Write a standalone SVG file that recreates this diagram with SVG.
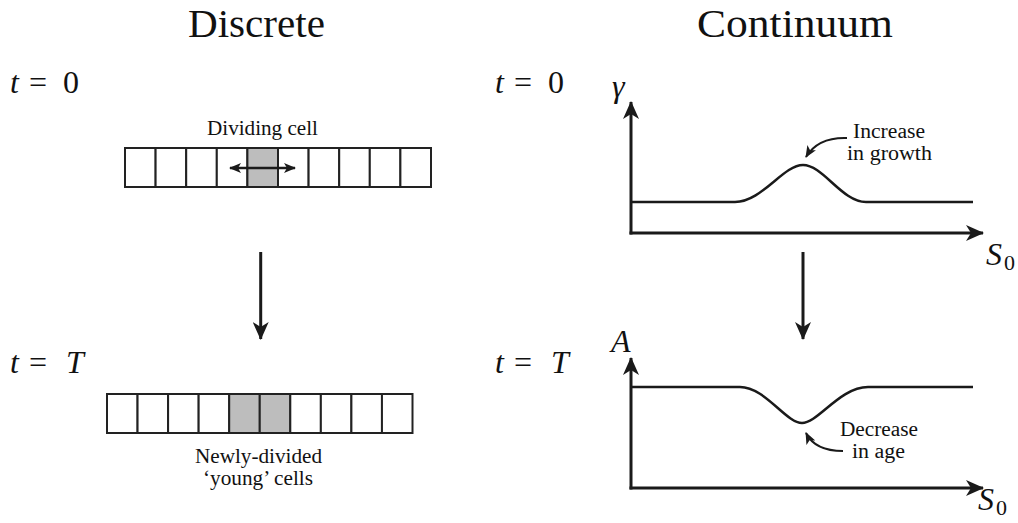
<svg xmlns="http://www.w3.org/2000/svg" width="1018" height="523" viewBox="0 0 1018 523">
<style>
text{fill:#111}
.title{font-size:39px}
.math{font-size:32px}
.it{font-style:italic}
.lbl{font-size:20px}
.cell{fill:#fff;stroke:#222;stroke-width:2}
.grey{fill:#bdbdbd}
.ax{fill:none;stroke:#1a1a1a;stroke-width:3}
.crv{fill:none;stroke:#1a1a1a;stroke-width:2.5}
.thin{fill:none;stroke:#1a1a1a;stroke-width:2}
</style>
<defs>
<marker id="big" viewBox="0 0 18 16" refX="17" refY="8" markerWidth="18" markerHeight="16" markerUnits="userSpaceOnUse" orient="auto">
<path d="M0,0 L18,8 L0,16 L5,8 Z" fill="#1a1a1a"/>
</marker>
<marker id="small" viewBox="0 0 12 10" refX="11" refY="5" markerWidth="12" markerHeight="10" markerUnits="userSpaceOnUse" orient="auto-start-reverse">
<path d="M0,0 L12,5 L0,10 L3,5 Z" fill="#1a1a1a"/>
</marker>
</defs>
<g font-family="Liberation Serif, Times New Roman, DejaVu Serif, serif">
<g id="titles">
<text class="title" x="188" y="37" textLength="137" lengthAdjust="spacingAndGlyphs">Discrete</text>
<text class="title" x="697" y="37" textLength="196" lengthAdjust="spacingAndGlyphs">Continuum</text>
</g>

<g id="time-labels">
<text class="math" y="93"><tspan class="it" x="10">t</tspan><tspan x="29">=</tspan><tspan x="63">0</tspan></text>
<text class="math" y="373"><tspan class="it" x="10">t</tspan><tspan x="29">=</tspan><tspan class="it" x="66">T</tspan></text>
<text class="math" y="93"><tspan class="it" x="495">t</tspan><tspan x="514">=</tspan><tspan x="548">0</tspan></text>
<text class="math" y="373"><tspan class="it" x="495">t</tspan><tspan x="514">=</tspan><tspan class="it" x="551">T</tspan></text>
</g>

<g id="discrete-t0">
<text class="lbl" x="207" y="135" textLength="111" lengthAdjust="spacingAndGlyphs">Dividing cell</text>
<rect class="cell" x="125" y="148" width="30.6" height="39"/>
<rect class="cell" x="155.6" y="148" width="30.6" height="39"/>
<rect class="cell" x="186.2" y="148" width="30.6" height="39"/>
<rect class="cell" x="216.8" y="148" width="30.6" height="39"/>
<rect class="cell grey" x="247.4" y="148" width="30.6" height="39"/>
<rect class="cell" x="278" y="148" width="30.6" height="39"/>
<rect class="cell" x="308.6" y="148" width="30.6" height="39"/>
<rect class="cell" x="339.2" y="148" width="30.6" height="39"/>
<rect class="cell" x="369.8" y="148" width="30.6" height="39"/>
<rect class="cell" x="400.4" y="148" width="30.6" height="39"/>
<line x1="230" y1="168" x2="295" y2="168" stroke="#1a1a1a" stroke-width="2.5" marker-start="url(#small)" marker-end="url(#small)"/>
</g>

<g id="discrete-tT">
<rect class="cell" x="107" y="394" width="30.55" height="39"/>
<rect class="cell" x="137.55" y="394" width="30.55" height="39"/>
<rect class="cell" x="168.1" y="394" width="30.55" height="39"/>
<rect class="cell" x="198.65" y="394" width="30.55" height="39"/>
<rect class="cell grey" x="229.2" y="394" width="30.55" height="39"/>
<rect class="cell grey" x="259.75" y="394" width="30.55" height="39"/>
<rect class="cell" x="290.3" y="394" width="30.55" height="39"/>
<rect class="cell" x="320.85" y="394" width="30.55" height="39"/>
<rect class="cell" x="351.4" y="394" width="30.55" height="39"/>
<rect class="cell" x="381.95" y="394" width="30.55" height="39"/>
<text class="lbl" x="195" y="463" textLength="127" lengthAdjust="spacingAndGlyphs">Newly-divided</text>
<text class="lbl" x="203" y="485" textLength="110" lengthAdjust="spacingAndGlyphs">‘young’ cells</text>
</g>

<g id="graph-gamma">
<text class="math it" x="612" y="97" font-size="30">γ</text>
<path class="crv" d="M631,202 H735 C762,202 783,165 803,165 C823,165 842,202 866,202 H973"/>
<text class="lbl" x="853" y="138" textLength="72" lengthAdjust="spacingAndGlyphs">Increase</text>
<text class="lbl" x="847" y="160" textLength="85" lengthAdjust="spacingAndGlyphs">in growth</text>
</g>

<g id="graph-age">
<text class="math it" x="611" y="352" font-size="30">A</text>
<path class="crv" d="M631,387 H740 C765,387 786,423 802,423 C818,423 840,387 868,387 H973"/>
<text class="lbl" x="840" y="436" textLength="78" lengthAdjust="spacingAndGlyphs">Decrease</text>
<text class="lbl" x="852" y="458" textLength="53" lengthAdjust="spacingAndGlyphs">in age</text>
</g>

<g id="axis-labels">
<text class="math" y="265"><tspan class="it" x="986">S</tspan><tspan x="1004" dy="5" font-size="22">0</tspan></text>
<text class="math" y="510"><tspan class="it" x="978">S</tspan><tspan x="996" dy="5" font-size="22">0</tspan></text>
</g>
</g>
<g id="connectors">
<line class="ax" x1="631" y1="234.5" x2="631" y2="102" marker-end="url(#big)"/>
<line class="ax" x1="629.5" y1="233" x2="983" y2="233" marker-end="url(#big)"/>
<line class="ax" x1="631" y1="489.5" x2="631" y2="358" marker-end="url(#big)"/>
<line class="ax" x1="629.5" y1="488" x2="983" y2="488" marker-end="url(#big)"/>
<line class="ax" x1="260.7" y1="252" x2="260.7" y2="339" marker-end="url(#big)"/>
<line class="ax" x1="803" y1="252" x2="803" y2="339" marker-end="url(#big)"/>
<path class="thin" d="M847,138 Q818,137 806,157" marker-end="url(#small)"/>
<path class="thin" d="M843,451 Q815,451 806,433" marker-end="url(#small)"/>
</g>
</svg>
